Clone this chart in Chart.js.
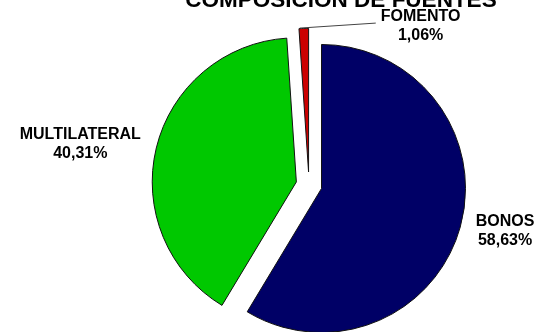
<!DOCTYPE html>
<html>
<head>
<meta charset="utf-8">
<script src="https://cdn.jsdelivr.net/npm/chart.js@4/dist/chart.umd.min.js"></script>
<style>
  html, body { margin: 0; padding: 0; background: #fff; }
  #wrap { width: 535px; height: 332px; }
</style>
</head>
<body>
<div id="wrap"><canvas id="chart"></canvas></div>
<script>
const titleText = 'COMPOSICION DE FUENTES';
const categories = ['BONOS', 'MULTILATERAL', 'FOMENTO'];
const shares = [58.63, 40.31, 1.06];
const sliceColors = ['#000066', '#00c800', '#cc0000'];

const PIE_RADIUS = 144;
const EXPLODE = 52; // chart.js moves a slice by offset / 4

const fmt = v => v.toFixed(2).replace('.', ',') + '%';

// keep every slice at the same drawn radius and its true angle, whatever its offset
const evenRadius = {
  id: 'evenRadius',
  afterDatasetsUpdate(chart) {
    chart.getDatasetMeta(0).data.forEach(arc => {
      const shift = (arc.options.offset || 0) / 4;
      const fix = 1 - Math.sin(Math.min(Math.PI, arc.circumference));
      const ro = shift * fix;
      arc.outerRadius = PIE_RADIUS - ro;
      const widen = ro / (2 * Math.PI * PIE_RADIUS);
      arc.startAngle -= widen;
      arc.endAngle += widen;
      arc.circumference += 2 * widen;
    });
  }
};

const pieTitle = {
  id: 'pieTitle',
  afterDraw(chart) {
    const ctx = chart.ctx;
    ctx.save();
    ctx.font = 'bold 22.5px "Liberation Sans", Arial, sans-serif';
    ctx.fillStyle = '#000';
    ctx.textAlign = 'center';
    ctx.textBaseline = 'alphabetic';
    ctx.fillText(titleText, 341, 7);
    ctx.restore();
  }
};

const pieLabels = {
  id: 'pieLabels',
  afterDatasetsDraw(chart, args, opts) {
    const ctx = chart.ctx;
    const meta = chart.getDatasetMeta(0);
    ctx.save();
    ctx.font = 'bold 16px "Liberation Sans", Arial, sans-serif';
    ctx.fillStyle = '#000';
    ctx.textAlign = 'center';
    ctx.textBaseline = 'middle';
    meta.data.forEach((arc, i) => {
      const mid = (arc.startAngle + arc.endAngle) / 2;
      const shift = (arc.options.offset || 0) / 4;
      const cx = arc.x + Math.cos(mid) * shift;
      const cy = arc.y + Math.sin(mid) * shift;
      const lines = [categories[i], fmt(shares[i])];
      const w = Math.max(...lines.map(l => ctx.measureText(l).width));
      const ax = cx + Math.cos(mid) * (PIE_RADIUS + opts.gap);
      let ay = cy + Math.sin(mid) * (PIE_RADIUS + opts.gap);
      let left = Math.cos(mid) >= 0 ? ax : ax - w;
      const lead = opts.leaders[i];
      if (lead) {
        const ex = cx + Math.cos(mid) * PIE_RADIUS;
        const ey = cy + Math.sin(mid) * PIE_RADIUS;
        ctx.strokeStyle = '#444';
        ctx.lineWidth = 1;
        ctx.beginPath();
        ctx.moveTo(ex - 4, ey);
        ctx.lineTo(ex + lead[0], ey + lead[1]);
        ctx.stroke();
        left = ex + lead[0] + 5;
        ay = ey + lead[1] + 3;
      }
      lines.forEach((l, k) => ctx.fillText(l, left + w / 2, ay + (k - 0.5) * opts.lineGap));
    });
    ctx.restore();
  }
};

new Chart(document.getElementById('chart'), {
  type: 'pie',
  data: {
    labels: categories,
    datasets: [{
      data: shares,
      backgroundColor: sliceColors,
      borderColor: '#111',
      borderWidth: 1,
      offset: EXPLODE
    }]
  },
  options: {
    responsive: true,
    maintainAspectRatio: false,
    animation: false,
    radius: PIE_RADIUS,
    layout: { padding: { left: 83, top: 38, right: 0, bottom: 0 } },
    plugins: {
      legend: { display: false },
      tooltip: { enabled: false },
      title: { display: false },
      pieLabels: { gap: 16, lineGap: 19, leaders: [null, null, [72, -5]] }
    }
  },
  plugins: [evenRadius, pieTitle, pieLabels]
});
</script>
</body>
</html>
